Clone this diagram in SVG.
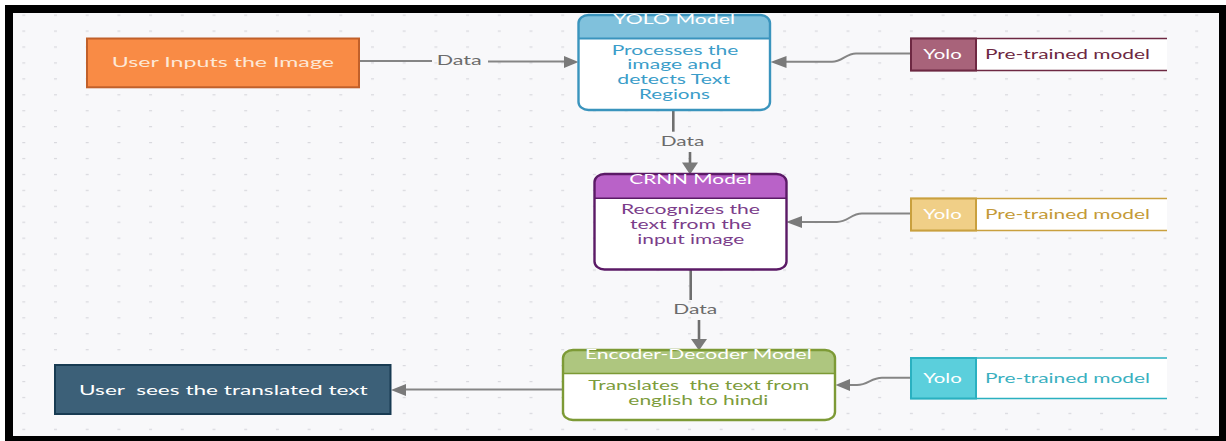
<svg xmlns="http://www.w3.org/2000/svg" width="1226" height="441" viewBox="0 0 1226 441">
  <defs>
    <pattern id="grid" patternUnits="userSpaceOnUse" x="22.3" y="30.5" width="31.7" height="15.93">
      <rect x="0" y="0" width="3" height="1.2" fill="#d9d9de"/>
    </pattern>
    <style>
      text { font-family: Lato, "Open Sans", "Liberation Sans", sans-serif; font-size: 13px; white-space: pre; }
      .lbl { fill: #6b6b6b; }
      .wire { fill: none; stroke: #858585; stroke-width: 2; }
      .vwire { fill: none; stroke: #6f6f6f; stroke-width: 2.6; }
      .head { fill: #7a7a7a; }
      .hdr { fill: #ffffff; }
    </style>
  </defs>

  <!-- page and frame -->
  <rect x="0" y="0" width="1226" height="441" fill="#ffffff"/>
  <rect x="5" y="5" width="1221" height="436" fill="#000000"/>
  <rect x="13" y="13" width="1206" height="423" fill="#f8f8fa"/>
  <rect x="13" y="13" width="1206" height="423" fill="url(#grid)"/>

  <!-- connectors -->
  <g id="connectors">
    <!-- input -> YOLO -->
    <path class="wire" d="M337,61 H432"/>
    <path class="wire" d="M488,61.6 H565"/>
    <polygon class="head" points="578.5,62 564,56 564,68"/>
    <text class="lbl" x="436.7" y="65" textLength="45" lengthAdjust="spacingAndGlyphs">Data</text>

    <!-- YOLO -> CRNN -->
    <path class="vwire" d="M673.3,110.5 V131.7"/>
    <path class="vwire" d="M690,152 V164"/>
    <polygon class="head" points="690,174.5 682,162.5 698,162.5"/>
    <text class="lbl" x="660.7" y="145.7" textLength="43.6" lengthAdjust="spacingAndGlyphs">Data</text>

    <!-- CRNN -> Encoder-Decoder -->
    <path class="vwire" d="M690.7,270 V300"/>
    <path class="vwire" d="M699,320 V340"/>
    <polygon class="head" points="699,350.5 691,339 707,339"/>
    <text class="lbl" x="673.3" y="314" textLength="44" lengthAdjust="spacingAndGlyphs">Data</text>

    <!-- pre-trained weights -> models -->
    <path class="wire" d="M911,53.5 H856 C846,53.5 842,61.8 832,61.8 H785"/>
    <polygon class="head" points="770.5,62 786.5,56 786.5,68"/>
    <path class="wire" d="M911,213.5 H862 C851,213.5 848,222 837,222 H800"/>
    <polygon class="head" points="786,222 802,216 802,228"/>
    <path class="wire" d="M911,377.7 H882 C871,377.7 868,385 857,385 H848"/>
    <polygon class="head" points="835.5,385 850,379 850,391"/>

    <!-- Encoder-Decoder -> output -->
    <path class="wire" d="M563,389.5 H404"/>
    <polygon class="head" points="391,390 406,384 406,396"/>
  </g>

  <!-- input node -->
  <g id="user-input">
    <rect x="87" y="38.5" width="272" height="48.8" fill="#f98b45" stroke="#c1602a" stroke-width="2"/>
    <text x="111.7" y="66.7" fill="#fde8d6" textLength="222.3" lengthAdjust="spacingAndGlyphs">User Inputs the Image</text>
  </g>

  <!-- YOLO model -->
  <g id="yolo-model">
    <rect x="578.5" y="15" width="191.5" height="95" rx="10" ry="8" fill="#ffffff"/>
    <path d="M578.5,38.5 V23 Q578.5,15 588.5,15 H760 Q770,15 770,23 V38.5 Z" fill="#80c1dc"/>
    <line x1="578.5" y1="38.5" x2="770" y2="38.5" stroke="#3a94bd" stroke-width="2"/>
    <rect x="578.5" y="15" width="191.5" height="95" rx="10" ry="8" fill="none" stroke="#3a94bd" stroke-width="2.4"/>
    <text class="hdr" x="613.3" y="23.5" textLength="121.7" lengthAdjust="spacingAndGlyphs">YOLO Model</text>
    <g fill="#3b9dc9">
      <text x="611.7" y="54.5" textLength="126.6" lengthAdjust="spacingAndGlyphs">Processes the</text>
      <text x="627.3" y="69.3" textLength="94.4" lengthAdjust="spacingAndGlyphs">image and</text>
      <text x="617.3" y="84" textLength="112.7" lengthAdjust="spacingAndGlyphs">detects Text</text>
      <text x="639" y="99" textLength="71" lengthAdjust="spacingAndGlyphs">Regions</text>
    </g>
  </g>

  <!-- CRNN model -->
  <g id="crnn-model">
    <rect x="594.5" y="174" width="192" height="95.5" rx="10" ry="8" fill="#ffffff"/>
    <path d="M594.5,198.3 V182 Q594.5,174 604.5,174 H776.5 Q786.5,174 786.5,182 V198.3 Z" fill="#b962c8"/>
    <line x1="594.5" y1="198.3" x2="786.5" y2="198.3" stroke="#5b1a66" stroke-width="1.6"/>
    <rect x="594.5" y="174" width="192" height="95.5" rx="10" ry="8" fill="none" stroke="#5b1a66" stroke-width="2.4"/>
    <text class="hdr" x="629.3" y="184" textLength="122.4" lengthAdjust="spacingAndGlyphs">CRNN Model</text>
    <g fill="#7b3d8a">
      <text x="621" y="214" textLength="139" lengthAdjust="spacingAndGlyphs">Recognizes the</text>
      <text x="630" y="229" textLength="121.7" lengthAdjust="spacingAndGlyphs">text from the</text>
      <text x="637.3" y="243.5" textLength="107" lengthAdjust="spacingAndGlyphs">input image</text>
    </g>
  </g>

  <!-- Encoder-Decoder model -->
  <g id="encoder-decoder-model">
    <rect x="563" y="350" width="272" height="70" rx="10" ry="8" fill="#ffffff"/>
    <path d="M563,373.5 V358 Q563,350 573,350 H825 Q835,350 835,358 V373.5 Z" fill="#aec67f"/>
    <line x1="563" y1="373.5" x2="835" y2="373.5" stroke="#7d9a36" stroke-width="1.6"/>
    <rect x="563" y="350" width="272" height="70" rx="10" ry="8" fill="none" stroke="#7d9a36" stroke-width="2.4"/>
    <text class="hdr" x="585" y="359" textLength="226.7" lengthAdjust="spacingAndGlyphs">Encoder-Decoder Model</text>
    <g fill="#7c9c3c">
      <text x="588.3" y="390" textLength="221" lengthAdjust="spacingAndGlyphs">Translates  the text from</text>
      <text x="628.3" y="404.5" textLength="140" lengthAdjust="spacingAndGlyphs">english to hindi</text>
    </g>
  </g>

  <!-- output node -->
  <g id="user-output">
    <rect x="55" y="365" width="335.5" height="49" fill="#3c6078" stroke="#183b52" stroke-width="2"/>
    <text x="79" y="395" fill="#ffffff" textLength="288.7" lengthAdjust="spacingAndGlyphs">User  sees the translated text</text>
  </g>

  <!-- pre-trained weights (YOLO) -->
  <g id="weights-yolo">
    <rect x="976" y="38.5" width="191" height="32" fill="#ffffff"/>
    <path d="M1167,38.5 H911 V70.5 H1167" fill="none" stroke="#6d2842" stroke-width="1.6"/>
    <rect x="911" y="38.5" width="65" height="32" fill="#a8637a" stroke="#6d2842" stroke-width="2"/>
    <text x="923.3" y="59" fill="#ffffff" textLength="38.4" lengthAdjust="spacingAndGlyphs">Yolo</text>
    <text x="985" y="59" fill="#6d2842" textLength="165" lengthAdjust="spacingAndGlyphs">Pre-trained model</text>
  </g>

  <!-- pre-trained weights (CRNN) -->
  <g id="weights-crnn">
    <rect x="976" y="198.5" width="191" height="32" fill="#ffffff"/>
    <path d="M1167,198.5 H911 V230.5 H1167" fill="none" stroke="#c9a03e" stroke-width="1.6"/>
    <rect x="911" y="198.5" width="65" height="32" fill="#f0cf87" stroke="#c9a03e" stroke-width="2"/>
    <text x="923.3" y="218.5" fill="#ffffff" textLength="38.4" lengthAdjust="spacingAndGlyphs">Yolo</text>
    <text x="985" y="218.5" fill="#c49a38" textLength="165" lengthAdjust="spacingAndGlyphs">Pre-trained model</text>
  </g>

  <!-- pre-trained weights (Encoder-Decoder) -->
  <g id="weights-encdec">
    <rect x="976" y="358" width="191" height="40.5" fill="#ffffff"/>
    <path d="M1167,358 H911 V398.5 H1167" fill="none" stroke="#2ab0c0" stroke-width="1.6"/>
    <rect x="911" y="358" width="65" height="40.5" fill="#5bcfdc" stroke="#2ab0c0" stroke-width="2"/>
    <text x="923.3" y="382.7" fill="#ffffff" textLength="38.4" lengthAdjust="spacingAndGlyphs">Yolo</text>
    <text x="985" y="382.7" fill="#3ab0c0" textLength="165" lengthAdjust="spacingAndGlyphs">Pre-trained model</text>
  </g>
</svg>
